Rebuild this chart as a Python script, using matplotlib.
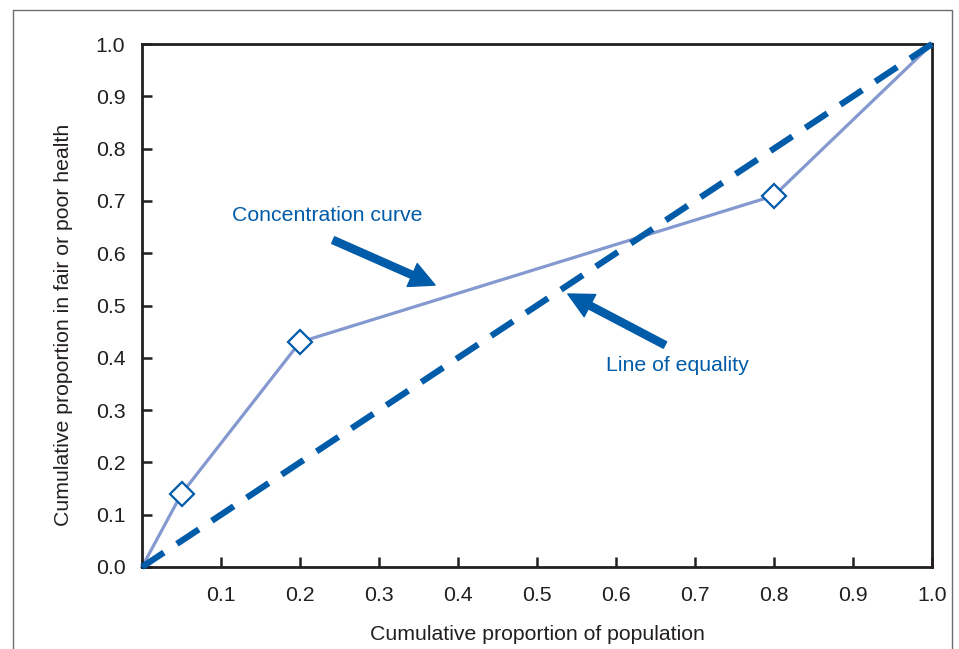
import matplotlib
matplotlib.use('Agg')
from matplotlib import pyplot as plt
from matplotlib.lines import Line2D
from matplotlib.patches import FancyArrowPatch

plt.rcParams['font.family'] = ['Liberation Sans', 'DejaVu Sans']

# concentration curve (cumulative shares)
pop_share = [0.0, 0.05, 0.2, 0.8, 1.0]
health_share = [0.0, 0.14, 0.43, 0.71, 1.0]
# line of equality
equal_x = [0.0, 1.0]
equal_y = [0.0, 1.0]

x_ticks = [0.1, 0.2, 0.3, 0.4, 0.5, 0.6, 0.7, 0.8, 0.9, 1.0]
y_ticks = [0.0, 0.1, 0.2, 0.3, 0.4, 0.5, 0.6, 0.7, 0.8, 0.9, 1.0]

dark = '#231f20'
blue = '#005ba8'
light = '#8399cf'
fs = 15.3

fig = plt.figure(figsize=(9.59, 6.49), dpi=100)
ax = fig.add_axes([142/959, 1 - 567/649, 790/959, 523/649])

# outer frame, open at the bottom
fig.add_artist(Line2D([13/959, 13/959, 952/959, 952/959], [0, 1 - 10/649, 1 - 10/649, 0],
                      transform=fig.transFigure, color='#6d6d6d', lw=1.0))

ax.plot(pop_share, health_share, color=light, lw=2.3, zorder=2,
        marker='D', markevery=[1, 2, 3], ms=12, mfc='white', mec=blue, mew=1.6, clip_on=False)
ln, = ax.plot(equal_x, equal_y, color=blue, lw=4.5, zorder=3, clip_on=False, solid_capstyle='butt')
ln.set_linestyle((0, (4.2, 2.5)))

ax.set_xlim(0, 1)
ax.set_ylim(0, 1)
ax.set_xticks(x_ticks)
ax.set_xticklabels(['%.1f' % v for v in x_ticks])
ax.set_yticks(y_ticks)
ax.set_yticklabels(['%.1f' % v for v in y_ticks])
ax.tick_params(direction='in', length=7, width=1.8, color=dark, labelcolor=dark, labelsize=fs)
ax.tick_params(axis='y', pad=12)
ax.tick_params(axis='x', pad=14)
for s in ax.spines.values():
    s.set_linewidth(2)
    s.set_color(dark)

ax.set_xlabel('Cumulative proportion of population', fontsize=fs, color=dark, labelpad=14)
ax.set_ylabel('Cumulative proportion in fair or poor health', fontsize=fs, color=dark)
ax.yaxis.set_label_coords(-0.087, 0.4627)

# annotations
ax.text(0.114, 0.673, 'Concentration curve', color=blue, fontsize=fs, va='center', ha='left')
ax.text(0.587, 0.386, 'Line of equality', color=blue, fontsize=fs, va='center', ha='left')
arrow_style = 'simple,head_length=0.9,head_width=0.9,tail_width=0.26'
ax.add_patch(FancyArrowPatch((0.242, 0.625), (0.371, 0.539), arrowstyle=arrow_style,
                             mutation_scale=20, color=blue, shrinkA=0, shrinkB=0, zorder=4))
ax.add_patch(FancyArrowPatch((0.662, 0.4245), (0.539, 0.522), arrowstyle=arrow_style,
                             mutation_scale=20, color=blue, shrinkA=0, shrinkB=0, zorder=4))

fig.savefig('out.png', dpi=100)
